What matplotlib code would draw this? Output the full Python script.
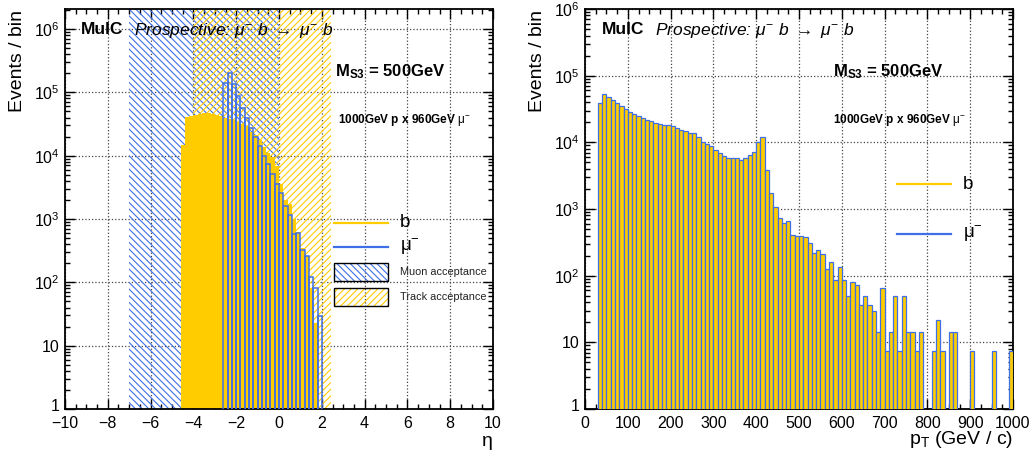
import numpy as np
import matplotlib
matplotlib.use("Agg")
import matplotlib.pyplot as plt
from matplotlib.lines import Line2D
from matplotlib.patches import Rectangle
from matplotlib.transforms import ScaledTranslation
from matplotlib.ticker import FixedLocator, FixedFormatter, LogLocator, NullFormatter, MultipleLocator

plt.rcParams['font.family'] = ['Liberation Sans', 'DejaVu Sans']
plt.rcParams['mathtext.fontset'] = 'custom'
plt.rcParams['mathtext.rm'] = 'Liberation Sans'
plt.rcParams['mathtext.it'] = 'Liberation Sans:italic'
plt.rcParams['mathtext.bf'] = 'Liberation Sans:bold'
plt.rcParams['hatch.linewidth'] = 0.8

YELLOW = '#ffcc00'
BLUE = '#3f6fe6'

# --- eta distribution (bin width 0.2) ---
eta_width = 0.2
b_eta_lo = -4.6
b_eta_counts = [1.45e4, 4.1e4, 4.3e4, 4.45e4, 4.6e4, 4.65e4, 4.65e4, 4.6e4, 4.45e4, 4.3e4,
                4.0e4, 3.8e4, 3.6e4, 3.4e4, 3.2e4, 2.97e4, 2.4e4, 2.1e4, 1.8e4, 1.35e4,
                1.1e4, 9.4e3, 6.9e3, 3.6e3, 2.0e3, 1.7e3, 1.0e3, 630, 350, 260,
                80, 23]
mu_eta_lo = -2.6
mu_eta_counts = [1.39e5, 2.0e5, 1.35e5, 8.8e4, 5.7e4, 3.9e4, 2.77e4, 1.99e4, 1.42e4, 9.9e3,
                 7.4e3, 5.1e3, 3.55e3, 2.56e3, 1.6e3, 1.15e3, 590, 610, 325, 260,
                 120, 80, 29]
muon_acc = (-7.0, 0.0)
track_acc = (-4.0, 2.45)

# --- pT distribution (bin width 10 GeV), b and mu- identical ---
pt_width = 10
pt_lo = 30
pt_counts = [3.85e4, 5.4e4, 4.8e4, 4.3e4, 3.85e4, 3.5e4, 3.16e4, 2.88e4, 2.63e4, 2.5e4,
             2.34e4, 2.2e4, 2.09e4, 1.97e4, 1.88e4, 1.84e4, 1.84e4, 1.76e4, 1.62e4, 1.53e4,
             1.48e4, 1.4e4, 1.4e4, 1.22e4, 1.02e4, 9.4e3, 8.9e3, 7.7e3, 6.8e3, 6.3e3,
             5.75e3, 5.75e3, 5.9e3, 5.4e3, 5.75e3, 6.45e3, 7.2e3, 1.02e4, 1.22e4, 3.85e3,
             1.76e3, 1.06e3, 724, 610, 650, 410, 400, 390, 380, 305,
             220, 245, 210, 125, 158, 86, 136, 86, 50, 79,
             72, 36, 50, 36, 29, 14.4, 65, 7.2, 14.4, 50,
             7.2, 50, 14.4, 14.4, 7.2, 14.4, 0, 0, 7.2, 21.6,
             7.2, 0, 14.4, 14.4, 0, 0, 0, 7.2, 0, 0,
             0, 0, 7.2, 0, 0, 0, 7.2]

W, H = 1035, 457
fig = plt.figure(figsize=(W / 100, H / 100), dpi=100)


def fx(x):
    return x / W


def fy(y):
    return 1 - y / H


ax1 = fig.add_axes([fx(65), fy(409), fx(493) - fx(65), fy(9) - fy(409)])
ax2 = fig.add_axes([fx(585), fy(409), fx(1013) - fx(585), fy(9) - fy(409)])


def style_axis(ax, ymax):
    ax.set_yscale('log')
    ax.set_ylim(1, ymax)
    dec = [1, 10, 1e2, 1e3, 1e4, 1e5, 1e6]
    labs = ['1', '10', '$10^{2}$', '$10^{3}$', '$10^{4}$', '$10^{5}$', '$10^{6}$']
    ax.yaxis.set_major_locator(FixedLocator(dec))
    ax.yaxis.set_major_formatter(FixedFormatter(labs))
    ax.yaxis.set_minor_locator(LogLocator(base=10, subs=np.arange(2, 10), numticks=20))
    ax.yaxis.set_minor_formatter(NullFormatter())
    ax.tick_params(which='both', direction='in', top=True, right=True, width=1.0,
                   labelsize=11.5, colors='black')
    ax.tick_params(which='major', length=7.5)
    ax.tick_params(which='minor', length=3.8)
    ax.tick_params(axis='x', pad=5)
    ax.tick_params(axis='y', pad=4)
    for s in ax.spines.values():
        s.set_linewidth(1.3)
    ax.grid(True, which='major', linestyle=':', color='#444444', linewidth=0.9)
    ax.set_axisbelow(True)
    # nudge the "1" label up a little so it clears the x tick labels
    lab = ax.get_yticklabels()[0]
    lab.set_transform(lab.get_transform() + ScaledTranslation(0, 3 / 72, fig.dpi_scale_trans))


# ---------------- left panel ----------------
style_axis(ax1, 2.07e6)
ax1.set_xlim(-10, 10)
ax1.xaxis.set_major_locator(MultipleLocator(2))
ax1.xaxis.set_minor_locator(MultipleLocator(0.5))
ax1.xaxis.set_major_formatter(plt.FuncFormatter(lambda v, p: f"{v:g}".replace('-', '\u2212')))

ax1.axvspan(*muon_acc, facecolor='none', edgecolor=BLUE, hatch='\\\\\\\\\\', linewidth=0, zorder=1)
ax1.axvspan(*track_acc, facecolor='none', edgecolor=YELLOW, hatch='/////', linewidth=0, zorder=1)

b_edges = b_eta_lo + eta_width * np.arange(len(b_eta_counts) + 1)
ax1.stairs(b_eta_counts, b_edges, baseline=0.1, fill=True, color=YELLOW, zorder=2)

mu_left = mu_eta_lo + eta_width * np.arange(len(mu_eta_counts))
ax1.bar(mu_left, mu_eta_counts, width=eta_width, align='edge', bottom=0.1,
        fill=False, edgecolor=BLUE, linewidth=1.1, zorder=3)

# ---------------- right panel ----------------
style_axis(ax2, 1e6)
ax2.set_xlim(0, 1000)
ax2.xaxis.set_major_locator(MultipleLocator(100))
ax2.xaxis.set_minor_locator(MultipleLocator(25))

pt_counts = np.array(pt_counts, dtype=float)
pt_left = pt_lo + pt_width * np.arange(len(pt_counts))
nz = pt_counts > 0
ax2.bar(pt_left[nz], pt_counts[nz], width=pt_width, align='edge', bottom=0.1,
        color=YELLOW, edgecolor=BLUE, linewidth=0.9, zorder=3)

# ---------------- texts ----------------
for x0 in (18, 538):
    fig.text(fx(x0), fy(10), 'Events / bin', rotation=90, ha='center', va='top', fontsize=14)

fig.text(fx(493), fy(442), '\u03b7', ha='right', va='center', fontsize=14)
fig.text(fx(1013), fy(440), r'p$_{\mathrm{T}}$ (GeV / c)', ha='right', va='center', fontsize=14)

for x_muic, x_ms3, x_beam in ((81, 335, 338), (602, 833, 833)):
    fig.text(fx(x_muic), fy(30), 'MuIC', ha='left', va='center', fontsize=12.5, fontweight='bold')
    fig.text(fx(x_muic + 53), fy(30), r'Prospective: $\mu^{-}$ b $\rightarrow$ $\mu^{-}$ b',
             ha='left', va='center', fontsize=12.5, style='italic')
    fig.text(fx(x_ms3), fy(72), r'M$_{\mathbf{S3}}$ = 500GeV', ha='left', va='center',
             fontsize=12, fontweight='bold')
    fig.text(fx(x_beam), fy(120), r'1000GeV p x 960GeV $\mathrm{\mu}^{-}$', ha='left', va='center',
             fontsize=8.5, fontweight='bold')


# legends
def leg_line(x0, x1, y, color, label):
    fig.add_artist(Line2D([fx(x0), fx(x1)], [fy(y), fy(y)], color=color, linewidth=1.6,
                          transform=fig.transFigure))
    fig.text(fx(x1 + 12), fy(y), label, ha='left', va='center', fontsize=13.5)


leg_line(334, 388, 222.7, YELLOW, 'b')
leg_line(334, 388, 246.7, BLUE, r'$\mathrm{\mu}^{-}$')
leg_line(897, 951, 184.3, YELLOW, 'b')
leg_line(897, 951, 234.3, BLUE, r'$\mathrm{\mu}^{-}$')

for (y0, y1), color, hatch, label in (((263.3, 281.0), BLUE, '\\\\\\\\\\', 'Muon acceptance'),
                                      ((288.3, 306.0), YELLOW, '/////', 'Track acceptance')):
    fig.add_artist(Rectangle((fx(334), fy(y1)), fx(388) - fx(334), fy(y0) - fy(y1),
                             facecolor='none', edgecolor=color, hatch=hatch, linewidth=0,
                             transform=fig.transFigure))
    fig.add_artist(Rectangle((fx(334), fy(y1)), fx(388) - fx(334), fy(y0) - fy(y1),
                             facecolor='none', edgecolor='black', linewidth=1.0,
                             transform=fig.transFigure))
    fig.text(fx(400), fy((y0 + y1) / 2), label, ha='left', va='center', fontsize=7.8, color='#222222')

fig.savefig('out.png', dpi=100)
